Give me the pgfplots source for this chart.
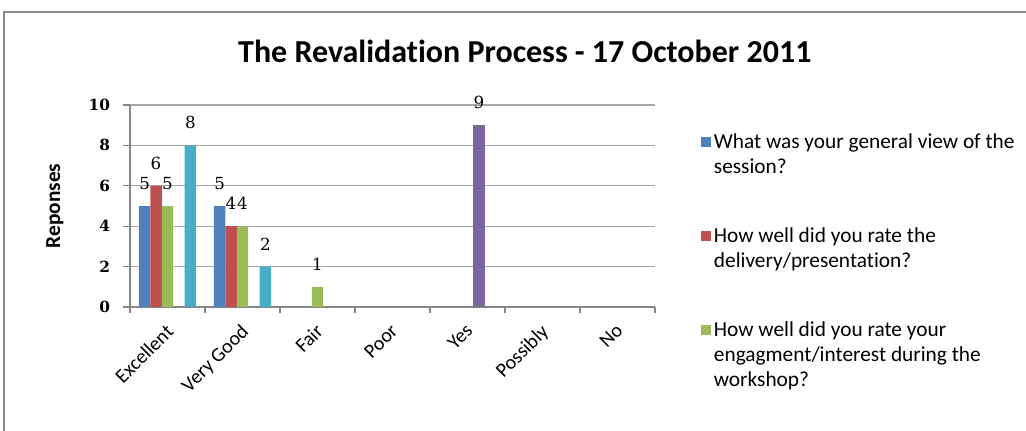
\documentclass[border=0pt]{standalone}
\usepackage{pgfplots}
\pgfplotsset{compat=1.18}
\usepackage{fontspec}
\setmainfont{Carlito}[Ligatures=CommonOff]
\newfontfamily\numfont{DejaVu Serif}
\definecolor{xblue}{HTML}{4F81BD}
\definecolor{xred}{HTML}{C0504D}
\definecolor{xgreen}{HTML}{9BBB59}
\definecolor{xpurple}{HTML}{8064A2}
\definecolor{xcyan}{HTML}{4BACC6}
\definecolor{axisgray}{HTML}{868686}
\definecolor{gridgray}{HTML}{A6A6A6}
\definecolor{framegray}{HTML}{8C8C8C}
\pgfplotsset{
  sqblue/.style={legend image code/.code={\fill[xblue] (0pt,5.6pt) rectangle (7.5pt,13.1pt);}},
  sqred/.style={legend image code/.code={\fill[xred] (0pt,5.6pt) rectangle (7.5pt,13.1pt);}},
  sqgreen/.style={legend image code/.code={\fill[xgreen] (0pt,15pt) rectangle (7.5pt,22.5pt);}},
}
\begin{document}
\begin{tikzpicture}
\useasboundingbox (0,0) rectangle (769.5pt,322.5pt);
\begin{scope}
\clip (0,0) rectangle (769.5pt,322.5pt);
\draw[framegray, line width=1.3pt] (3pt,-20pt) -- (3pt,313.5pt) -- (790pt,313.5pt);
\end{scope}
\begin{axis}[
  at={(97.5pt,92.25pt)}, anchor=south west, scale only axis,
  width=393.75pt, height=151.5pt,
  xmin=-0.5, xmax=6.5, ymin=0, ymax=10,
  axis x line*=bottom, axis y line*=left,
  axis line style={draw=axisgray, line width=0.8pt, -},
  ymajorgrids, grid style={draw=gridgray, line width=0.8pt},
  ytick={0,2,...,10},
  xtick={0,...,6},
  xticklabels={Excellent,Very Good,Fair,Poor,Yes,Possibly,No},
  minor xtick={-0.5,0.5,...,6.5},
  tick align=outside,
  major tick length=5pt, minor tick length=4.5pt,
  major x tick style={draw=none},
  minor x tick style={draw=axisgray, line width=0.8pt},
  y tick style={draw=axisgray, line width=0.8pt},
  /pgf/number format/assume math mode=true,
  yticklabel style={font=\numfont\bfseries\fontsize{11.5}{14}\selectfont, xshift=-6.5pt},
  xticklabel style={font=\fontsize{15}{17}\selectfont, rotate=45, anchor=north east, xshift=-3pt},
  every axis y label/.style={at={(axis description cs:-0.143,0.5)}, rotate=90, anchor=center, font=\bfseries\fontsize{16}{18}\selectfont},
  ylabel={Reponses},
  title={The Revalidation Process - 17 October 2011},
  title style={at={(axis description cs:0.752,1.226)}, anchor=center, font=\bfseries\fontsize{24}{28}\selectfont},
  ybar, bar width=8.6pt,
  nodes near coords,
  every node near coord/.append style={font=\numfont\fontsize{12.5}{14}\selectfont, anchor=center, yshift=17pt},
  legend style={at={(axis description cs:1.08,0.885)}, anchor=north west, draw=none, fill=none,
    font=\fontsize{16}{18.75}\selectfont, row sep=35pt, cells={anchor=west, align=left}},
]
\addplot[fill=xblue, draw=none, bar shift=-17.2pt, sqblue] coordinates {(0,5) (1,5)};
\addlegendentry{What was your general view of the\\session?}
\addplot[fill=xred, draw=none, bar shift=-8.6pt, sqred] coordinates {(0,6) (1,4)};
\addlegendentry{How well did you rate the\\delivery/presentation?}
\addplot[fill=xgreen, draw=none, bar shift=0pt, sqgreen] coordinates {(0,5) (1,4) (2,1)};
\addlegendentry{How well did you rate your\\engagment/interest during the\\workshop?}
\addplot[fill=xpurple, draw=none, bar shift=8.6pt, forget plot] coordinates {(4,9)};
\addplot[fill=xcyan, draw=none, bar shift=17.2pt, forget plot] coordinates {(0,8) (1,2)};
\end{axis}
\end{tikzpicture}
\end{document}
